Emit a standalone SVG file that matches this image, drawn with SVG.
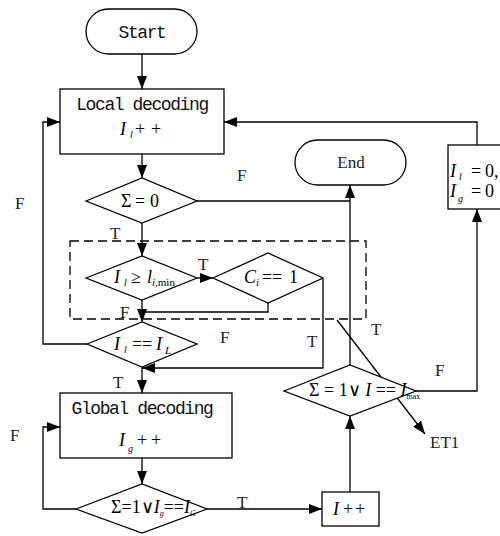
<svg xmlns="http://www.w3.org/2000/svg" width="500" height="536" viewBox="0 0 500 536">
  <style>
    .shape { fill: #fff; stroke: #000; stroke-width: 1.3; }
    .line { fill: none; stroke: #000; stroke-width: 1.3; }
    .dash { fill: none; stroke: #000; stroke-width: 1.3; stroke-dasharray: 9 5; }
    .mono { font-family: "Liberation Mono", "DejaVu Sans Mono", monospace; font-size: 18px; letter-spacing: -1.4px; fill: #111; text-anchor: middle; }
    .lbl { font-family: "Liberation Serif", "Times New Roman", serif; font-size: 17px; fill: #222; }
    .m { font-family: "Liberation Serif", "Times New Roman", serif; font-size: 18px; fill: #000; }
    .it { font-style: italic; }
  </style>
  <defs>
    <marker id="arrow" markerUnits="userSpaceOnUse" markerWidth="13" markerHeight="10" refX="13" refY="5" orient="auto">
      <path d="M0,0 L13,5 L0,10 z" fill="#000"/>
    </marker>
  </defs>

  <!-- connectors -->
  <g id="connectors">
    <path class="line" d="M142,54 V89" marker-end="url(#arrow)"/>
    <path class="line" d="M142,154 V178" marker-end="url(#arrow)"/>
    <path class="line" d="M142,223 V256" marker-end="url(#arrow)"/>
    <path class="line" d="M197,201 H350"/>
    <path class="line" d="M350,365 V185" marker-end="url(#arrow)"/>
    <path class="line" d="M197,278 H213" marker-end="url(#arrow)"/>
    <path class="line" d="M142,300 V322" marker-end="url(#arrow)"/>
    <path class="line" d="M268,303 V312 H142"/>
    <path class="line" d="M323,279 V368 H142" marker-end="url(#arrow)"/>
    <path class="line" d="M87,344 H43 V122 H60" marker-end="url(#arrow)"/>
    <path class="line" d="M142,367 V393" marker-end="url(#arrow)"/>
    <path class="line" d="M142,458 V484" marker-end="url(#arrow)"/>
    <path class="line" d="M76,509 H43 V427 H60" marker-end="url(#arrow)"/>
    <path class="line" d="M207,509 H322" marker-end="url(#arrow)"/>
    <path class="line" d="M350,492 V416" marker-end="url(#arrow)"/>
    <path class="line" d="M416,391 H477 V209" marker-end="url(#arrow)"/>
    <path class="line" d="M477,145 V122 H224" marker-end="url(#arrow)"/>
    <path class="line" d="M337,320 L425,434" marker-end="url(#arrow)"/>
  </g>

  <!-- dashed grouping frame -->
  <rect id="et1-frame" class="dash" x="70" y="241" width="296" height="78"/>

  <g id="start">
    <rect class="shape" x="86" y="9" width="111" height="45" rx="22.5"/>
    <text class="mono" x="142" y="38">Start</text>
  </g>

  <g id="local-decoding">
    <rect class="shape" x="60" y="89" width="164" height="65"/>
    <text class="mono" x="142" y="110">Local decoding</text>
    <text class="m"><tspan class="it" x="120" y="135">I</tspan><tspan class="it" x="130" y="138" font-size="10">l</tspan><tspan x="135" y="135">+</tspan><tspan x="151" y="135">+</tspan></text>
  </g>

  <g id="sum-zero">
    <polygon class="shape" points="86,201 142,178 197,201 142,223"/>
    <text class="m" font-size="19"><tspan x="121" y="207">Σ</tspan><tspan x="135" y="207">=</tspan><tspan x="150" y="207">0</tspan></text>
  </g>

  <g id="end">
    <rect class="shape" x="295" y="140" width="111" height="45" rx="22.5"/>
    <text class="lbl" x="351" y="168" font-size="18" text-anchor="middle">End</text>
  </g>

  <g id="reset">
    <rect class="shape" x="448" y="145" width="70" height="64"/>
    <text class="m" font-size="17"><tspan class="it" x="450" y="177">I</tspan><tspan class="it" x="459" y="180" font-size="10">l</tspan><tspan x="471" y="177">=</tspan><tspan x="485" y="177">0,</tspan></text>
    <text class="m" font-size="17"><tspan class="it" x="450" y="197">I</tspan><tspan class="it" x="458" y="202" font-size="10">g</tspan><tspan x="471" y="197">=</tspan><tspan x="485" y="197">0</tspan></text>
  </g>

  <g id="iter-check">
    <polygon class="shape" points="86,278 142,256 197,278 142,300"/>
    <text class="m"><tspan class="it" x="114" y="283">I</tspan><tspan class="it" x="124" y="286" font-size="10">l</tspan><tspan x="131" y="283">≥</tspan><tspan class="it" x="147" y="283">l</tspan><tspan x="152" y="286" font-size="11"><tspan class="it">i</tspan>,min</tspan></text>
  </g>

  <g id="ci-check">
    <polygon class="shape" points="213,278 268,253 323,278 268,303"/>
    <text class="m"><tspan class="it" x="244" y="283">C</tspan><tspan class="it" x="256" y="286" font-size="11">i</tspan><tspan x="262" y="283">=</tspan><tspan x="272" y="283">=</tspan><tspan x="289" y="283">1</tspan></text>
  </g>

  <g id="local-limit">
    <polygon class="shape" points="87,344 142,322 197,344 142,367"/>
    <text class="m"><tspan class="it" x="114" y="350">I</tspan><tspan class="it" x="124" y="353" font-size="10">l</tspan><tspan x="132" y="350">=</tspan><tspan x="142" y="350">=</tspan><tspan class="it" x="156" y="350">I</tspan><tspan class="it" x="165" y="354" font-size="11">L</tspan></text>
  </g>

  <g id="global-decoding">
    <rect class="shape" x="60" y="393" width="172" height="65"/>
    <text class="mono" x="142" y="414">Global decoding</text>
    <text class="m"><tspan class="it" x="119" y="446">I</tspan><tspan class="it" x="128" y="452" font-size="10">g</tspan><tspan x="137" y="446">+</tspan><tspan x="151" y="446">+</tspan></text>
  </g>

  <g id="global-check">
    <polygon class="shape" points="76,509 142,484 207,509 142,533"/>
    <text class="m" font-size="11.5" x="111" y="513">Σ=1∨<tspan class="it">I</tspan><tspan class="it" font-size="8" dy="3">g</tspan><tspan dy="-3">==</tspan><tspan class="it">I</tspan><tspan class="it" font-size="8" dy="3">G</tspan></text>
  </g>

  <g id="inc">
    <rect class="shape" x="322" y="492" width="57" height="34"/>
    <text class="m"><tspan class="it" x="333" y="515">I</tspan><tspan x="343" y="515">+</tspan><tspan x="355" y="515">+</tspan></text>
  </g>

  <g id="outer-check">
    <polygon class="shape" points="284,391 350,365 416,391 350,416"/>
    <text class="m" font-size="14" x="309" y="396">Σ = 1∨ <tspan class="it">I</tspan> == <tspan class="it">I</tspan><tspan font-size="8" dy="3">max</tspan></text>
  </g>

  <!-- branch labels -->
  <g id="labels">
    <text class="lbl" x="237" y="181">F</text>
    <text class="lbl" x="110" y="239">T</text>
    <text class="lbl" x="198" y="270">T</text>
    <text class="lbl" x="120" y="318">F</text>
    <text class="lbl" x="220" y="343">F</text>
    <text class="lbl" x="307" y="347">T</text>
    <text class="lbl" x="371" y="335">T</text>
    <text class="lbl" x="15" y="209">F</text>
    <text class="lbl" x="113" y="388">T</text>
    <text class="lbl" x="10" y="441">F</text>
    <text class="lbl" x="237" y="508">T</text>
    <text class="lbl" x="435" y="376">F</text>
    <text class="lbl" x="430" y="448" font-size="16">ET1</text>
  </g>
</svg>
